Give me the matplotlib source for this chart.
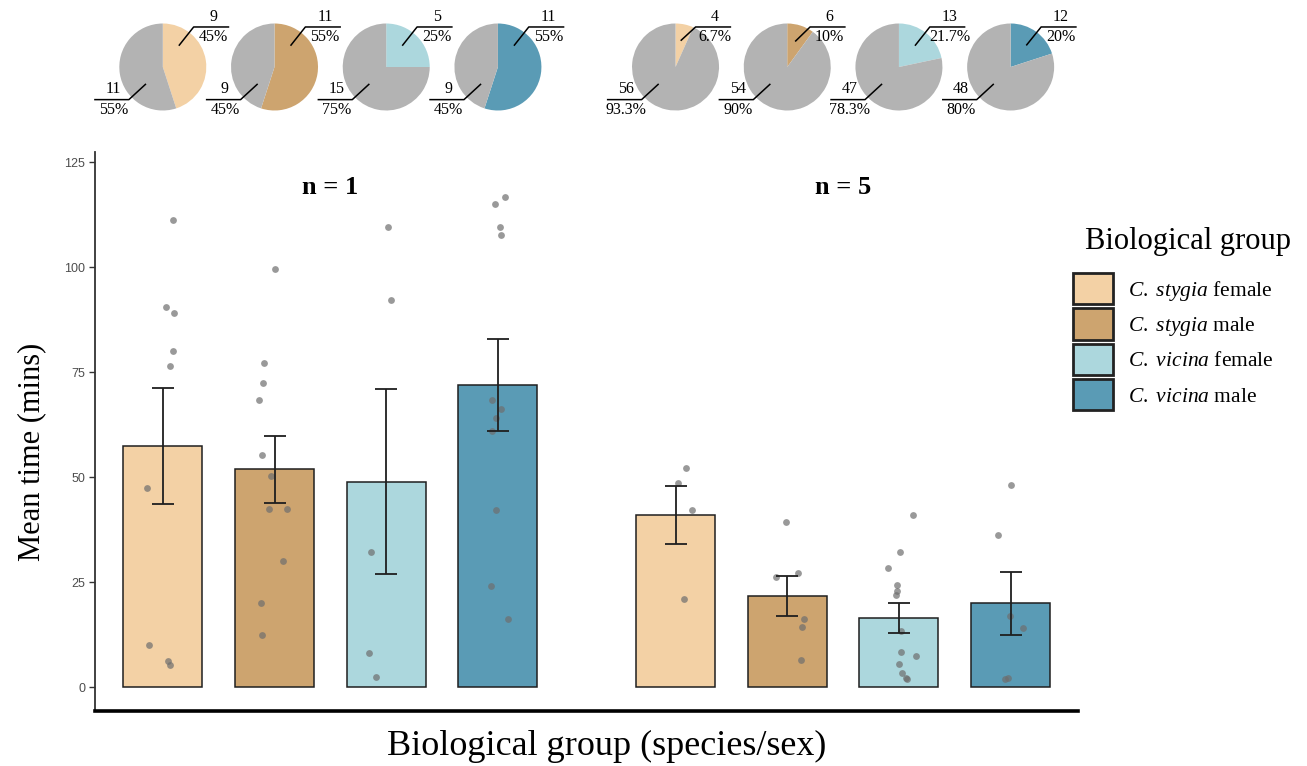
import matplotlib.pyplot as plt
import numpy as np
from matplotlib.patches import Patch

plt.rcParams['font.family'] = 'Liberation Serif'
plt.rcParams['mathtext.fontset'] = 'custom'
plt.rcParams['mathtext.rm'] = 'Liberation Serif'
plt.rcParams['mathtext.it'] = 'Liberation Serif:italic'

# groups and colours
groups = [r'$\mathit{C.\ stygia}$ female', r'$\mathit{C.\ stygia}$ male',
          r'$\mathit{C.\ vicina}$ female', r'$\mathit{C.\ vicina}$ male']
colors = ["#F3D1A5", "#CDA46F", "#ACD7DD", "#5A9BB5"]
panels = ["n = 1", "n = 5"]

# bar means and error bar ends (mins)
means_n1 = [57.5, 51.8, 48.8, 71.9]
lo_n1 = [43.6, 43.9, 26.8, 61.0]
hi_n1 = [71.1, 59.8, 70.9, 82.8]
means_n5 = [41.0, 21.7, 16.4, 19.9]
lo_n5 = [34.0, 16.9, 12.8, 12.3]
hi_n5 = [47.9, 26.4, 19.9, 27.5]

# individual points (mins)
pts_n1 = [
    [111.3, 90.6, 89.0, 80.0, 76.5, 47.5, 10.0, 6.3, 5.2],
    [99.5, 77.1, 72.4, 68.3, 55.3, 50.2, 42.3, 42.3, 30.0, 20.0, 12.3],
    [109.5, 92.2, 32.1, 8.0, 2.3],
    [116.7, 114.9, 109.5, 107.6, 68.3, 66.2, 64.0, 61.0, 42.1, 24.1, 16.1],
]
pts_n5 = [
    [52.2, 48.5, 42.1, 21.0],
    [39.4, 26.3, 27.1, 16.3, 14.4, 6.4],
    [41.0, 32.1, 28.3, 24.3, 22.9, 22.0, 13.4, 8.3, 7.3, 5.4, 3.3, 2.2, 2.0],
    [48.2, 36.2, 17.0, 14.0, 2.0, 2.2],
]
# horizontal jitter of the points as seen in the plot
jit_n1 = [
    [0.09, 0.03, 0.10, 0.09, 0.06, -0.14, -0.12, 0.05, 0.06],
    [0.0, -0.09, -0.10, -0.14, -0.11, -0.03, -0.05, 0.11, 0.08, -0.12, -0.11],
    [0.02, 0.04, -0.14, -0.15, -0.09],
    [0.06, -0.03, 0.02, 0.03, -0.05, 0.03, -0.02, -0.05, -0.02, -0.06, 0.09],
]
jit_n5 = [
    [0.09, 0.02, 0.15, 0.08],
    [-0.01, -0.10, 0.10, 0.15, 0.13, 0.12],
    [0.13, 0.01, -0.10, -0.02, -0.02, -0.03, 0.02, 0.02, 0.15, 0.0, 0.03, 0.06, 0.07],
    [0.0, -0.11, -0.01, 0.11, -0.05, -0.02],
]

# pie counts (coloured slice vs grey slice)
pie_yes_n1 = [9, 11, 5, 11]
pie_no_n1 = [11, 9, 15, 9]
pie_yes_n5 = [4, 6, 13, 12]
pie_no_n5 = [56, 54, 47, 48]

W, H = 1307, 766
fig = plt.figure(figsize=(W / 100, H / 100), dpi=100)
ax = fig.add_axes([95 / W, 1 - 711 / H, 983 / W, 559 / H])

xpos = list(range(4)) + [4.59 + i for i in range(4)]
means = np.array(means_n1 + means_n5)
lo = np.array(lo_n1 + lo_n5)
hi = np.array(hi_n1 + hi_n5)
pts = pts_n1 + pts_n5
jit = jit_n1 + jit_n5
bar_cols = colors * 2

ax.bar(xpos, means, width=0.707, color=bar_cols, edgecolor='#1f1f1f', linewidth=1.1, zorder=2)
for i, x in enumerate(xpos):
    ax.scatter(x + np.array(jit[i]), pts[i], s=24, color='#6e6e6e', alpha=0.7, linewidths=0, zorder=3)
ax.errorbar(xpos, means, yerr=[means - lo, hi - means], fmt='none', ecolor='#1f1f1f',
            elinewidth=1.3, capsize=8, capthick=1.3, zorder=4)

ax.set_xlim(-0.607, 8.193)
ax.set_ylim(-5.71, 127.4)
ax.set_xticks([])
ax.set_yticks([0, 25, 50, 75, 100, 125])
ax.tick_params(axis='y', length=4, width=1, color='#333333', labelcolor='#4d4d4d', labelsize=9, pad=3)
for lab in ax.get_yticklabels():
    lab.set_fontfamily('Liberation Sans')
ax.spines['top'].set_visible(False)
ax.spines['right'].set_visible(False)
ax.spines['left'].set_color('#333333')
ax.spines['left'].set_linewidth(1.3)
ax.spines['bottom'].set_color('black')
ax.spines['bottom'].set_linewidth(2.6)

ax.text(1.5, 119, panels[0], ha='center', va='center', fontsize=19, fontweight='bold')
ax.text(4.59 + 1.5, 119, panels[1], ha='center', va='center', fontsize=19, fontweight='bold')

fig.text(32 / W, 1 - 452 / H, "Mean time (mins)", rotation=90, ha='center', va='center', fontsize=22)
fig.text(607 / W, 1 - 746 / H, "Biological group (species/sex)", ha='center', va='center', fontsize=26)

# legend
handles = [Patch(facecolor=c, edgecolor='#222222', linewidth=2) for c in colors]
fig.text(1085 / W, 1 - 241 / H, "Biological group", ha='left', va='center', fontsize=22)
fig.legend(handles, groups, loc='upper left', bbox_to_anchor=(1073 / W, 1 - 273 / H),
           frameon=False, fontsize=15.5, handlelength=1.86, handleheight=1.86,
           handletextpad=0.7, labelspacing=0.19, borderpad=0, borderaxespad=0)

# pies above the bars
yes = pie_yes_n1 + pie_yes_n5
no = pie_no_n1 + pie_no_n5


def pct(v):
    return f"{round(v, 1):g}%"


d = 87
for i, x in enumerate(xpos):
    cx, _ = ax.transData.transform((x, 0))
    pax = fig.add_axes([(cx - d / 2) / W, (H - 67 - d / 2) / H, d / W, d / H])
    total = yes[i] + no[i]
    pax.pie([yes[i], no[i]], colors=[bar_cols[i], '#B3B3B3'], startangle=90,
            counterclock=False, radius=1, wedgeprops=dict(linewidth=0))
    pax.set_xlim(-1, 1)
    pax.set_ylim(-1, 1)
    pax.set_aspect('equal')
    pax.axis('off')

    # coloured slice label (up-right)
    a = np.radians(min(180 * yes[i] / total, 37))
    ax0, ay0 = 0.63 * np.sin(a), 0.63 * np.cos(a)
    dx, dy = ax0 + 0.33, 0.92
    hx = dx + 0.8
    pax.plot([ax0, dx, hx], [ay0, dy, dy], color='black', lw=1.1, clip_on=False)
    tx = (dx + hx) / 2 + 0.05
    pax.text(tx, dy + 0.05, str(yes[i]), ha='center', va='bottom', fontsize=11.5)
    pax.text(tx, dy - 0.05, pct(100 * yes[i] / total), ha='center', va='top', fontsize=11.5)

    # grey slice label (down-left)
    gx0, gy0 = -0.40, -0.40
    gdx, gdy = -0.78, -0.75
    ghx = gdx - 0.78
    pax.plot([gx0, gdx, ghx], [gy0, gdy, gdy], color='black', lw=1.1, clip_on=False)
    tx = (gdx + ghx) / 2 + 0.03
    pax.text(tx, gdy + 0.05, str(no[i]), ha='center', va='bottom', fontsize=11.5)
    pax.text(tx, gdy - 0.05, pct(100 * no[i] / total), ha='center', va='top', fontsize=11.5)

fig.savefig("out.png", dpi=100)
